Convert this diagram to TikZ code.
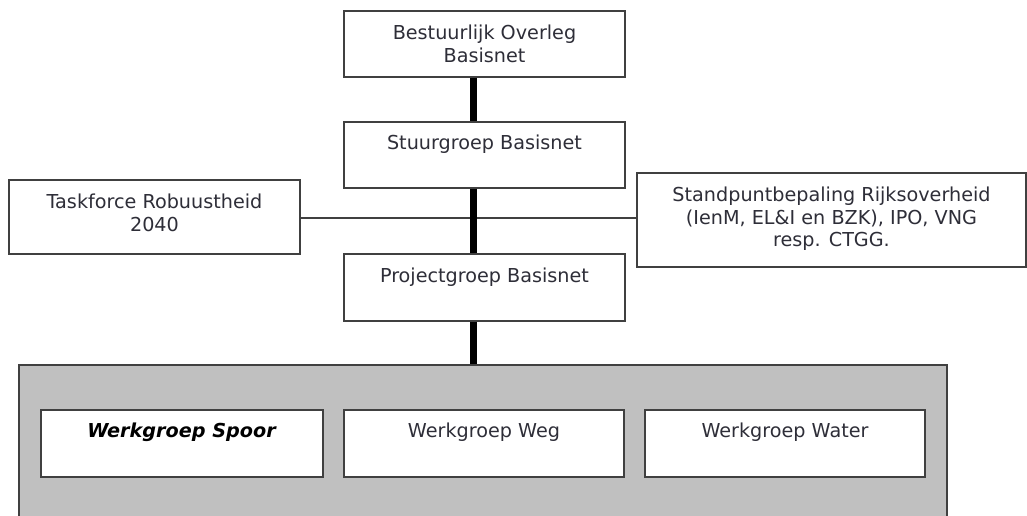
\documentclass[tikz,border=0pt]{standalone}
\usepackage{fontspec}
\setmainfont{DejaVu Sans}
\definecolor{edge}{HTML}{404040}
\definecolor{txtc}{HTML}{2E2E38}
\definecolor{panel}{HTML}{C0C0C0}
\begin{document}
\begin{tikzpicture}[x=1pt,y=-1pt,
  box/.style={draw=edge, line width=1.1pt, fill=white, inner sep=0pt, rectangle},
  txt/.style={anchor=base, align=center, inner sep=0pt, text=txtc, font=\fontsize{19.2}{22.5}\selectfont},
  spineline/.style={line width=7pt, black},
  thinline/.style={line width=1.2pt, edge}]
\useasboundingbox (0,0) rectangle (1027,516);
% gray panel
\node[draw=edge, line width=1.1pt, fill=panel, inner sep=0pt, minimum width=928pt, minimum height=170pt] (panel) at (483,450) {};
% coordinates for connectors
\coordinate (spine) at (473.5,0);
\coordinate (hline) at (0,218);
% boxes
\node[box, minimum width=281pt, minimum height=66pt] (bo) at (484.5,44) {};
\node[box, minimum width=281pt, minimum height=66pt] (sg) at (484.5,155) {};
\node[box, minimum width=281pt, minimum height=67pt] (pg) at (484.5,287.5) {};
\node[box, minimum width=291pt, minimum height=74pt] (tf) at (154.5,217) {};
\node[box, minimum width=389pt, minimum height=94pt] (sp) at (831.5,220) {};
\node[box, minimum width=282pt, minimum height=67pt] (ws) at (182,443.5) {};
\node[box, minimum width=280pt, minimum height=67pt] (ww) at (484,443.5) {};
\node[box, minimum width=280pt, minimum height=67pt] (wa) at (785,443.5) {};
% connectors
\draw[thinline] (tf.east |- hline) -- (sp.west |- hline);
\draw[spineline] (bo.south -| spine) -- (sg.north -| spine);
\draw[spineline] (sg.south -| spine) -- (pg.north -| spine);
\draw[spineline] (pg.south -| spine) -- (panel.north -| spine);
% texts (base anchor = baseline of the last line)
\node[txt] (tbo) at ([yshift=-52pt]bo.north) {Bestuurlijk Overleg\\Basisnet};
\node[txt] (tsg) at ([yshift=-28.5pt]sg.north) {Stuurgroep Basisnet};
\node[txt] (tpg) at ([yshift=-29.5pt]pg.north) {Projectgroep Basisnet};
\node[txt] (ttf) at ([yshift=-52pt]tf.north) {Taskforce Robuustheid\\2040};
\node[txt] (tsp) at ([yshift=-74.5pt]sp.north) {Standpuntbepaling Rijksoverheid\\(IenM, EL\&I en BZK), IPO, VNG\\resp. CTGG.};
\node[txt, text=black] (tws) at ([yshift=-28.5pt]ws.north) {\textbf{\textit{Werkgroep Spoor}}};
\node[txt] (tww) at ([yshift=-28.5pt]ww.north) {Werkgroep Weg};
\node[txt] (twa) at ([yshift=-28.5pt]wa.north) {Werkgroep Water};
\end{tikzpicture}
\end{document}
